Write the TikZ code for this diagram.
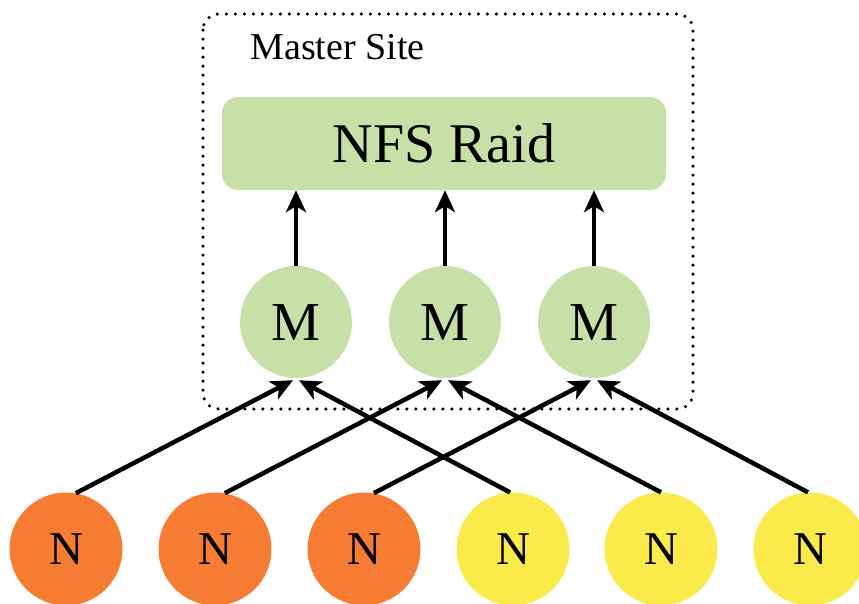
\documentclass[tikz,border=0pt]{standalone}
\usepackage{fontspec}
\setmainfont{Liberation Serif}
\usetikzlibrary{arrows.meta,calc}
\definecolor{leaf}{RGB}{198,224,168}
\definecolor{ember}{RGB}{245,124,50}
\definecolor{lemon}{RGB}{250,235,75}
\tikzset{
  site/.style={draw=black, line width=3.5pt, line cap=round, dash pattern=on 0pt off 9pt, rounded corners=16pt},
  raidbox/.style={fill=leaf, rounded corners=16pt, minimum width=444pt, minimum height=93pt, inner sep=0pt, font=\fontsize{56}{60}\selectfont},
  master/.style={circle, fill=leaf, minimum size=112pt, inner sep=0pt, font=\fontsize{55}{58}\selectfont},
  nodeA/.style={circle, fill=ember, minimum size=113pt, inner sep=0pt, font=\fontsize{47}{50}\selectfont},
  nodeB/.style={circle, fill=lemon, minimum size=113pt, inner sep=0pt, font=\fontsize{47}{50}\selectfont},
  link/.style={line width=4.5pt, -{Stealth[length=22pt,width=20pt,inset=6pt]}},
}
\begin{document}
\begin{tikzpicture}[x=1pt,y=-1pt]
  \useasboundingbox (0,0) rectangle (859,603);
  \clip (0,0) rectangle (859,603);

  % master site frame and label
  \draw[site] (203,14) rectangle (693,409);
  \node[anchor=base west, font=\fontsize{38}{42}\selectfont] (lbl) at (247,59) {Master Site};

  % storage and master servers
  \node[raidbox] (raid) at (444,143.5) {NFS Raid};
  \node[master] (M1) at (296,322) {M};
  \node[master] (M2) at (445,322) {M};
  \node[master] (M3) at (594,322) {M};

  % compute nodes
  \node[nodeA] (N1) at (66,549) {N};
  \node[nodeA] (N2) at (215,549) {N};
  \node[nodeA] (N3) at (364,549) {N};
  \node[nodeB] (N4) at (513,549) {N};
  \node[nodeB] (N5) at (661,549) {N};
  \node[nodeB] (N6) at (810,549) {N};

  % masters write to storage
  \foreach \m in {M1,M2,M3}
    \draw[link] (\m.north) -- (\m.north |- raid.south);

  % arrow targets just below each master
  \foreach \m in {M1,M2,M3} {
    \coordinate (\m l) at ($(\m.south)+(-3,2)$);
    \coordinate (\m r) at ($(\m.south)+(3,2)$);
  }

  % nodes report to masters
  \draw[link] (N1.80) -- (M1l);
  \draw[link] (N2.80) -- (M2l);
  \draw[link] (N3.80) -- (M3l);
  \draw[link] (N4.93) -- (M1r);
  \draw[link] (N5.90) -- (M2r);
  \draw[link] (N6.92) -- (M3r);
\end{tikzpicture}
\end{document}
